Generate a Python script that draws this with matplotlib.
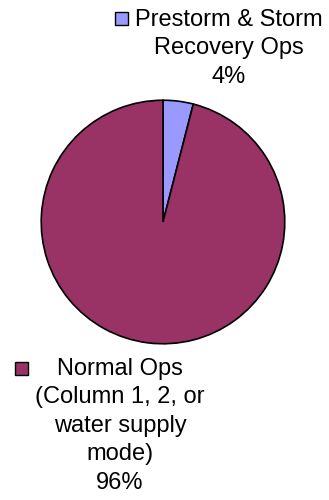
import matplotlib.pyplot as plt
from matplotlib.patches import Rectangle

plt.rcParams['font.family'] = ['Liberation Sans', 'DejaVu Sans']

# данные
categories = ['Prestorm & Storm\nRecovery Ops', 'Normal Ops\n(Column 1, 2, or\nwater supply\nmode)']
shares = [4, 96]
colors = ['#9999FF', '#993366']

fig = plt.figure(figsize=(3.29, 5), dpi=100)
ax = fig.add_axes([0.1216, 0.31, 0.7477, 0.492])
ax.pie(shares, colors=colors, startangle=90, counterclock=False,
       wedgeprops=dict(edgecolor='black', linewidth=1.2))
ax.set_xlim(-1.01, 1.01)
ax.set_ylim(-1.01, 1.01)
ax.set_aspect('equal')
ax.axis('off')

# подписи с ключами легенды
label_pos = [(229 / 329, 1 - 9 / 500), (120 / 329, 1 - 358 / 500)]
key_pos = [(115 / 329, 1 - 25 / 500), (15 / 329, 1 - 375 / 500)]
for cat, val, col, (tx, ty), (kx, ky) in zip(categories, shares, colors, label_pos, key_pos):
    fig.text(tx, ty, f'{cat}\n{val}%', ha='center', va='top',
             fontsize=17, linespacing=1.38)
    fig.add_artist(Rectangle((kx, ky), 13 / 329, 13 / 500, transform=fig.transFigure,
                             facecolor=col, edgecolor='black', linewidth=1))

fig.savefig('out.png', dpi=100)
